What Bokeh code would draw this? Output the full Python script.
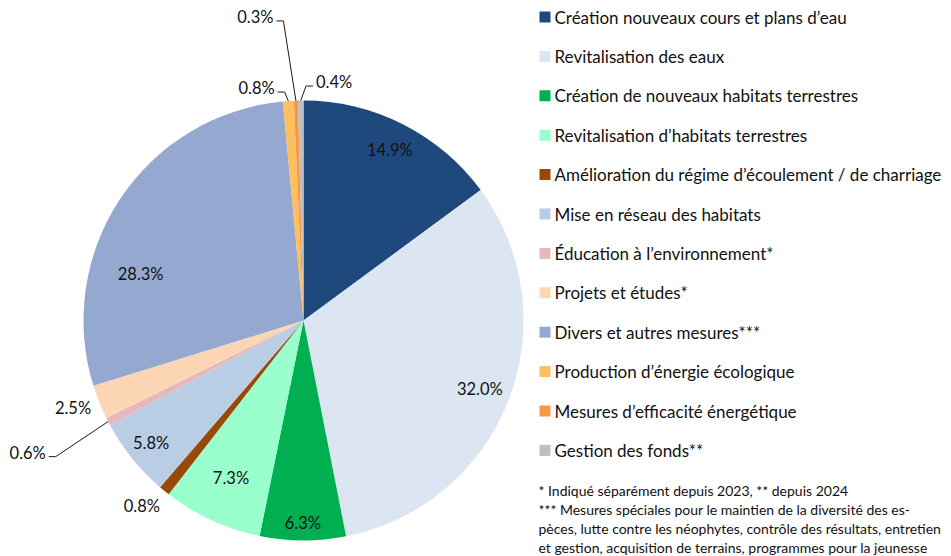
import numpy as np
from bokeh.plotting import figure
from bokeh.models import Range1d, ColumnDataSource
from bokeh.core.properties import value
from bokeh.embed import file_html
from bokeh.resources import INLINE

# ---------------- data ----------------
categories = [
    "Création nouveaux cours et plans d’eau",
    "Revitalisation des eaux",
    "Création de nouveaux habitats terrestres",
    "Revitalisation d’habitats terrestres",
    "Amélioration du régime d’écoulement / de charriage",
    "Mise en réseau des habitats",
    "Éducation à l’environnement*",
    "Projets et études*",
    "Divers et autres mesures***",
    "Production d’énergie écologique",
    "Mesures d’efficacité énergétique",
    "Gestion des fonds**",
]
shares = [14.9, 32.0, 6.3, 7.3, 0.8, 5.8, 0.6, 2.5, 28.3, 0.8, 0.3, 0.4]
pct_labels = ["14.9%", "32.0%", "6.3%", "7.3%", "0.8%", "5.8%",
              "0.6%", "2.5%", "28.3%", "0.8%", "0.3%", "0.4%"]
colors = ["#1F497D", "#DCE6F2", "#00B050", "#99FFCC", "#984807", "#B9CDE5",
          "#E6B9B8", "#FCD5B5", "#95A9D0", "#FFBF5F", "#F79646", "#BFBFBF"]
footnotes = [
    "* Indiqué séparément depuis 2023, ** depuis 2024",
    "*** Mesures spéciales pour le maintien de la diversité des es-",
    "pèces, lutte contre les néophytes, contrôle des résultats, entretien",
    "et gestion, acquisition de terrains, programmes pour la jeunesse",
]

# ---------------- layout / style ----------------
W, H = 951, 556
CX, CY, R = 303.0, 236.0, 220.0
FONT = "Lato"
# label placement: radius factor, optional angle override (deg, clockwise from top), leader flag
label_r = [0.87, 0.86, 0.92, 0.79, 1.12, 0.89, 1.39, 1.12, 0.77, 1.078, 1.397, 1.093]
label_ang = [None, None, None, None, 221.0, None, 244.4, 249.3, 286.0, 348.6, 351.0, 7.3]
leader = [False, False, False, False, False, False, True, False, False, True, True, True]

p = figure(width=W, height=H, x_range=Range1d(0, W), y_range=Range1d(0, H),
           output_backend="svg", toolbar_location=None, min_border=0,
           x_axis_location=None, y_axis_location=None)
p.grid.visible = False
p.outline_line_color = None
p.background_fill_color = "white"
p.border_fill_color = "white"

vals = np.array(shares, dtype=float)
frac = vals / vals.sum()
cum = np.concatenate([[0.0], np.cumsum(frac)])
start = np.pi / 2 - 2 * np.pi * cum[1:]
end = np.pi / 2 - 2 * np.pi * cum[:-1]

src = ColumnDataSource(dict(start=start, end=end, color=colors, cat=categories))
p.wedge(x=CX, y=CY, radius=R, start_angle="start", end_angle="end",
        fill_color="color", line_color=None, source=src)

# labels
mid = np.pi * (cum[:-1] + cum[1:])
lx, ly = [], []
for i in range(len(vals)):
    th = np.radians(label_ang[i]) if label_ang[i] is not None else mid[i]
    lx.append(CX + label_r[i] * R * np.sin(th))
    ly.append(CY + label_r[i] * R * np.cos(th))
    if leader[i]:
        side = 1 if np.sin(th) < 0 else -1
        ax = CX + R * np.sin(mid[i])
        ay = CY + R * np.cos(mid[i])
        ey = ly[-1] - 4
        p.line([lx[-1] + side * 21, lx[-1] + side * 28, ax], [ey, ey, ay],
               line_color="#1a1a1a", line_width=1)

p.text(x=lx, y=ly, text=pct_labels, text_font=value(FONT), text_font_size="16.5px",
       text_align="center", text_baseline="middle", text_color="#111111")

# legend
n = len(categories)
leg_y = [539.5 - 39.4 * i for i in range(n)]
p.scatter(x=[544.5] * n, y=leg_y, marker="square", size=11, fill_color=colors,
          line_color=None)
p.text(x=[554] * n, y=leg_y, text=categories, text_font=value(FONT),
       text_font_size="17px", text_align="left", text_baseline="middle",
       text_color="#111111")

# footnotes
fy = [66 - 19 * i for i in range(len(footnotes))]
p.text(x=[538] * len(footnotes), y=fy, text=footnotes, text_font=value(FONT),
       text_font_size="14px", text_align="left", text_baseline="middle",
       text_color="#111111")

open("out.html", "w").write(file_html(p, INLINE))
